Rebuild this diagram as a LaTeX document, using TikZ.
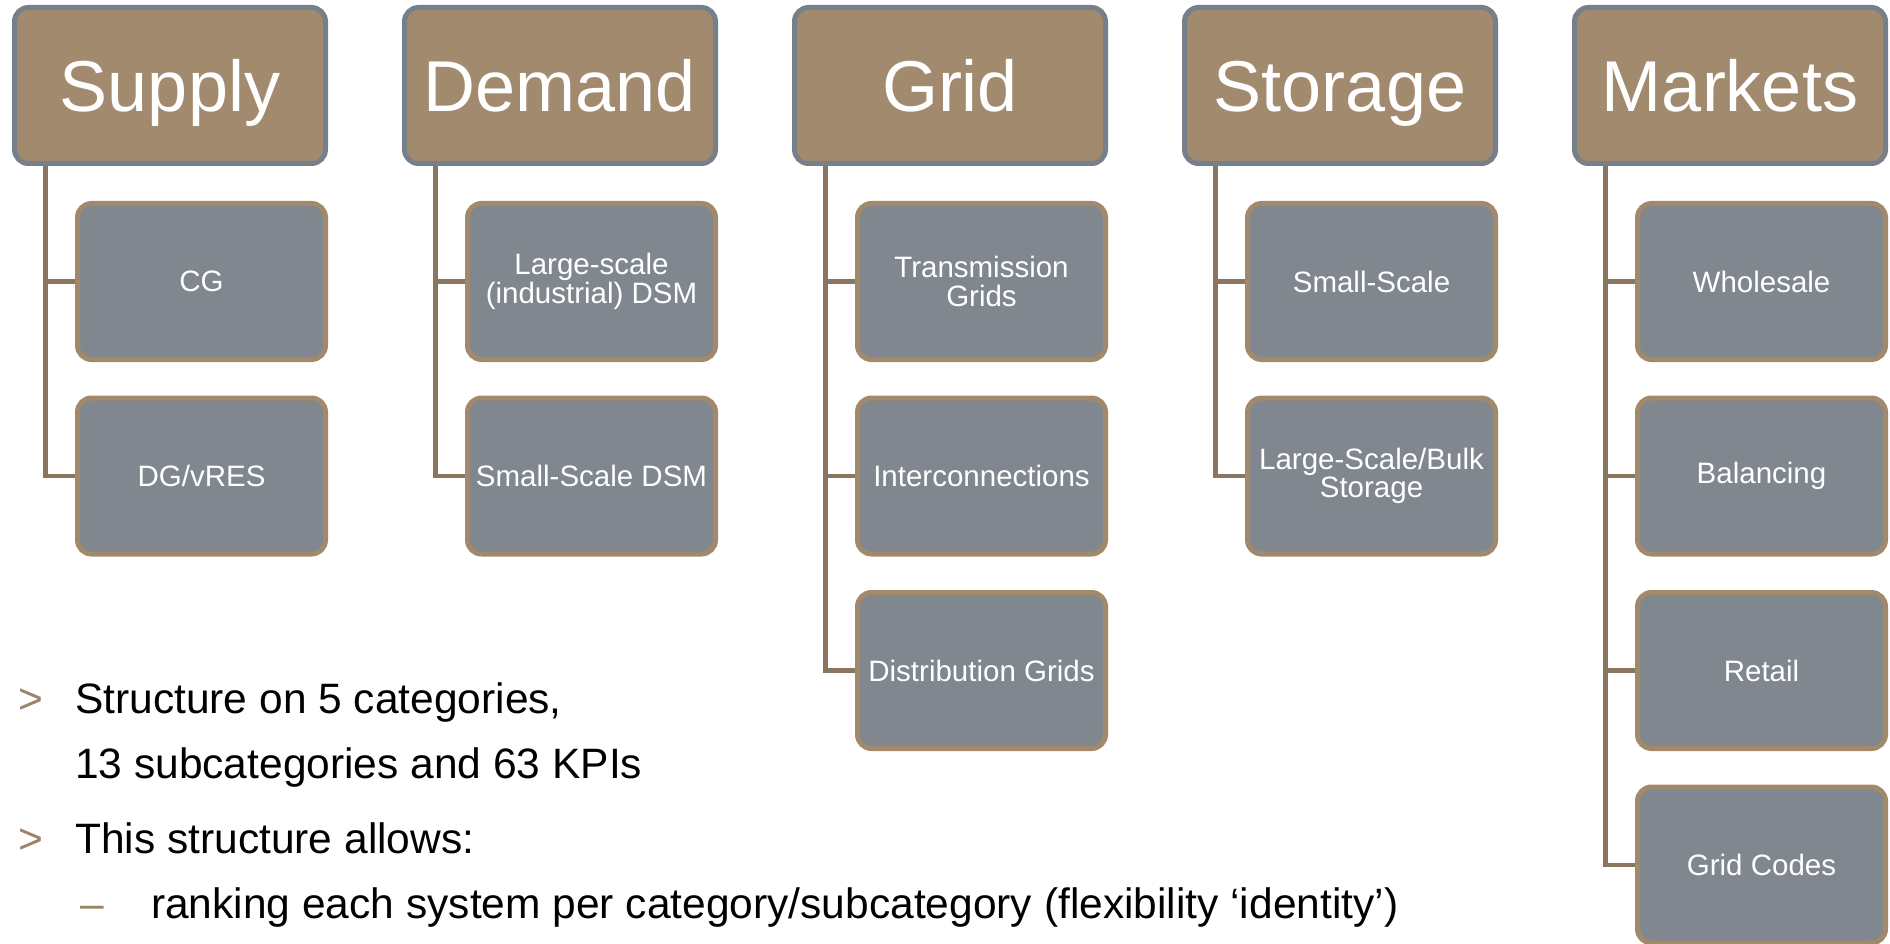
\documentclass[tikz,border=0pt]{standalone}
\usepackage{fontspec}
\setmainfont{Liberation Sans}
\definecolor{hdrfill}{HTML}{A28A6E}
\definecolor{hdrdraw}{HTML}{76808A}
\definecolor{subfill}{HTML}{80878F}
\definecolor{subdraw}{HTML}{A3896B}
\definecolor{linec}{HTML}{8A7560}
\definecolor{bulc}{HTML}{9C8468}
\begin{document}
\begin{tikzpicture}[x=1pt,y=-1pt,
  hdr/.style={draw=hdrdraw, fill=hdrfill, line width=5pt, rounded corners=14pt,
    minimum width=311pt, minimum height=156pt, text=white, inner sep=0pt,
    font=\fontsize{72}{80}\selectfont, text height=52pt, text depth=0pt},
  subbox/.style={draw=subdraw, fill=subfill, line width=5pt, rounded corners=14pt,
    minimum width=248pt, minimum height=156pt, text=white, inner sep=0pt,
    font=\fontsize{29.5}{28.5}\selectfont, align=center},
  conn/.style={draw=linec, line width=4.5pt},
  bul/.style={anchor=base west, inner sep=0pt, font=\fontsize{42.5}{46}\selectfont},
  bulmark/.style={bul, text=bulc}]
\useasboundingbox (0,0) rectangle (1890,944);

% headers
\node[hdr] (h1) at (170,85.5) {Supply};
\node[hdr] (h2) at (560,85.5) {Demand};
\node[hdr] (h3) at (950,85.5) {Grid};
\node[hdr] (h4) at (1340,85.5) {Storage};
\node[hdr] (h5) at (1730,85.5) {Markets};

% spine coordinates
\coordinate (p1) at (45.5,166);
\coordinate (p2) at (435.5,166);
\coordinate (p3) at (825.5,166);
\coordinate (p4) at (1215.5,166);
\coordinate (p5) at (1605.5,166);

% sub boxes
\node[subbox] (s1a) at (201.5,281.5) {CG};
\node[subbox] (s1b) at (201.5,476) {DG/vRES};
\node[subbox] (s2a) at (591.5,281.5) {Large-scale\\(industrial) DSM};
\node[subbox] (s2b) at (591.5,476) {Small-Scale DSM};
\node[subbox] (s3a) at (981.5,281.5) {Transmission\\Grids};
\node[subbox] (s3b) at (981.5,476) {Interconnections};
\node[subbox] (s3c) at (981.5,670.5) {Distribution Grids};
\node[subbox] (s4a) at (1371.5,281.5) {Small-Scale};
\node[subbox] (s4b) at (1371.5,476) {Large-Scale/Bulk\\Storage};
\node[subbox] (s5a) at (1761.5,281.5) {Wholesale};
\node[subbox] (s5b) at (1761.5,476) {Balancing};
\node[subbox] (s5c) at (1761.5,670.5) {Retail};
\node[subbox] (s5d) at (1761.5,865) {Grid Codes};

% connectors
\draw[conn] (p1 |- h1.south) |- (s1b.west);
\draw[conn] (p1 |- s1a.west) -- (s1a.west);
\draw[conn] (p2 |- h2.south) |- (s2b.west);
\draw[conn] (p2 |- s2a.west) -- (s2a.west);
\draw[conn] (p3 |- h3.south) |- (s3c.west);
\draw[conn] (p3 |- s3a.west) -- (s3a.west);
\draw[conn] (p3 |- s3b.west) -- (s3b.west);
\draw[conn] (p4 |- h4.south) |- (s4b.west);
\draw[conn] (p4 |- s4a.west) -- (s4a.west);
\draw[conn] (p5 |- h5.south) |- (s5d.west);
\draw[conn] (p5 |- s5a.west) -- (s5a.west);
\draw[conn] (p5 |- s5b.west) -- (s5b.west);
\draw[conn] (p5 |- s5c.west) -- (s5c.west);

% bullet text
\node[bulmark] (m1) at (18,713) {>};
\node[bul] (t1) at (75,713) {Structure on 5 categories,};
\node[bul] (t2) at (75,778) {13 subcategories and 63 KPIs};
\node[bulmark] (m2) at (18,853) {>};
\node[bul] (t3) at (75,853) {This structure allows:};
\node[bulmark] (m3) at (80,918) {–};
\node[bul] (t4) at (151,918) {ranking each system per category/subcategory (flexibility ‘identity’)};
\end{tikzpicture}
\end{document}
